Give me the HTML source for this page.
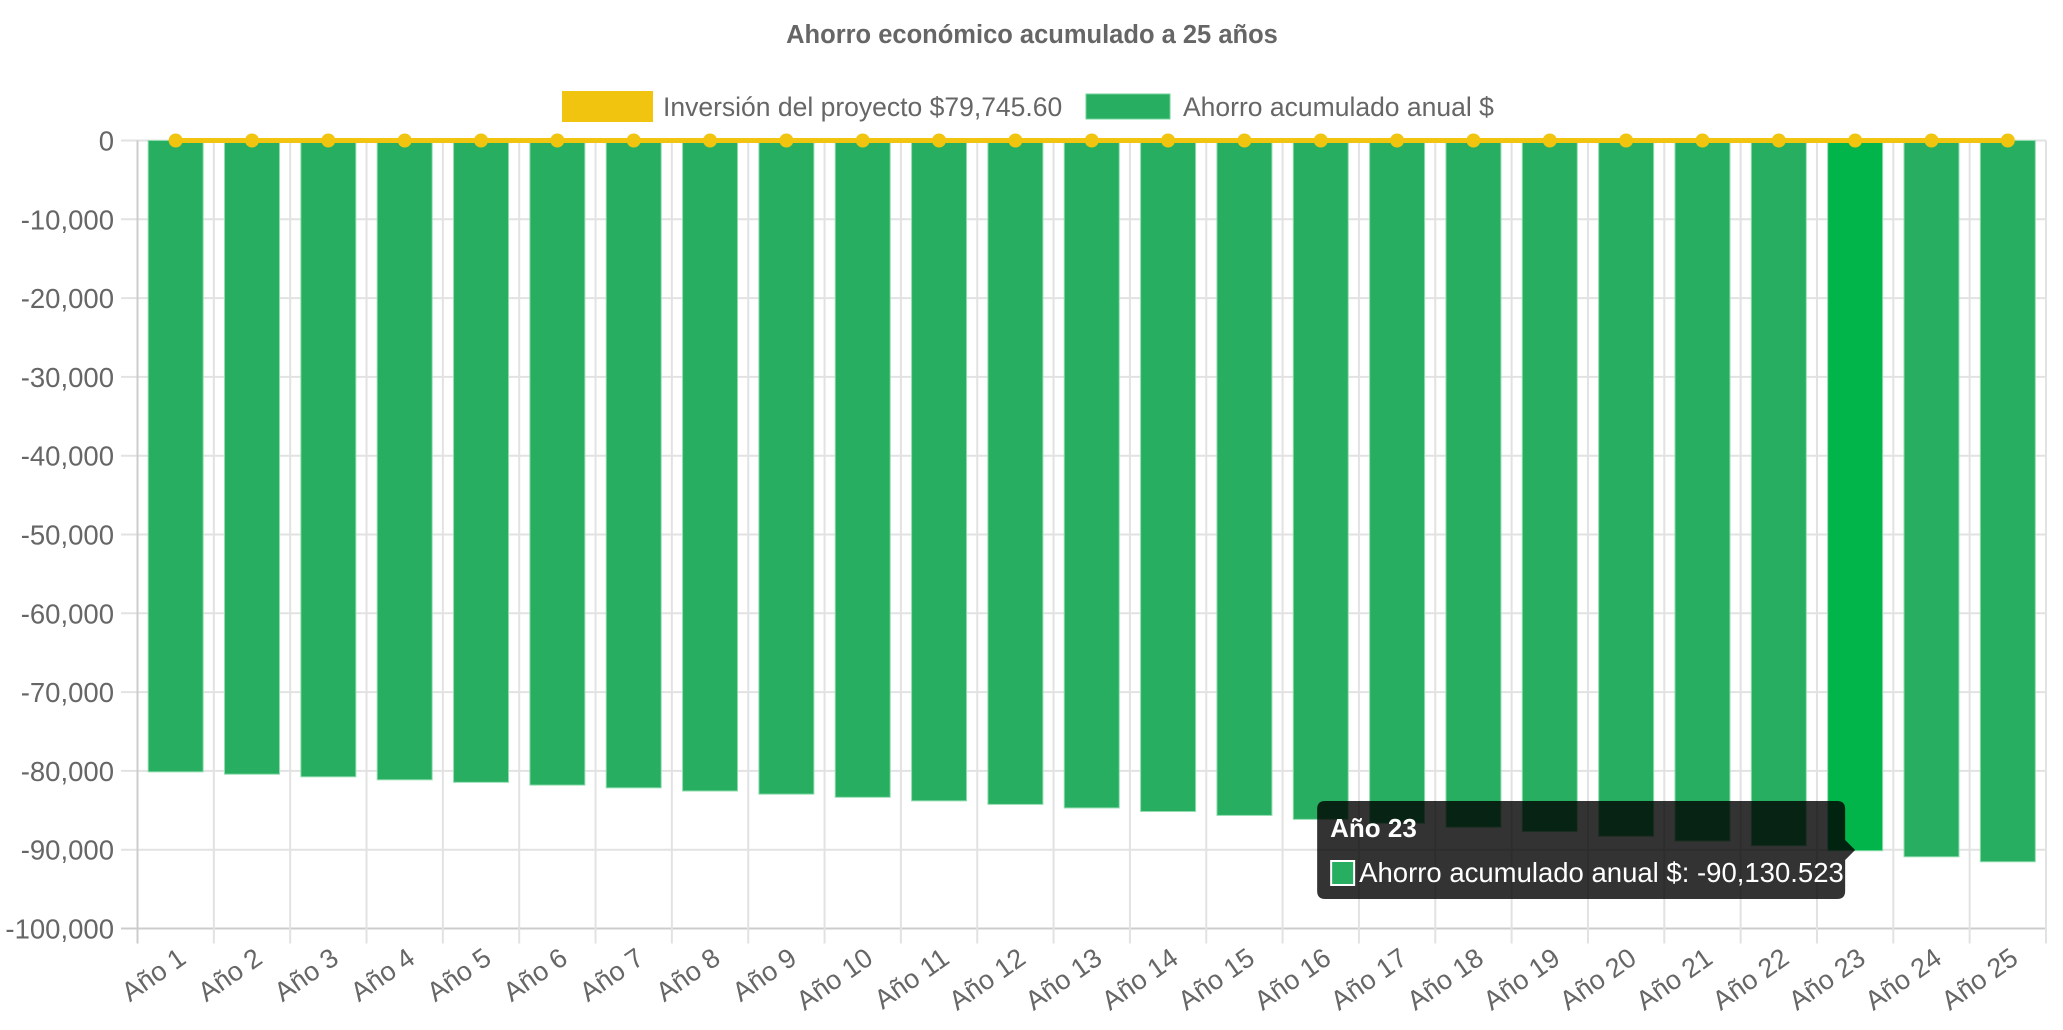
<!DOCTYPE html>
<html><head><meta charset="utf-8"><style>
html,body{margin:0;padding:0;background:#fff;}
svg{display:block;font-family:"Liberation Sans",sans-serif;}
</style></head><body>
<svg id="c" width="2063" height="1030">
<text x="1032" y="43" text-anchor="middle" font-size="25.5" font-weight="bold" fill="#666">Ahorro económico acumulado a 25 años</text>
<g>
<rect x="562" y="91" width="91" height="31" fill="#f1c40f"/>
<text x="663" y="116" font-size="26.5" fill="#666">Inversión del proyecto $79,745.60</text>
<rect x="1086" y="94" width="84" height="25" fill="#27ae60" stroke="#6fd39a" stroke-width="1"/>
<text x="1183" y="116" font-size="26.5" fill="#666">Ahorro acumulado anual $</text>
</g>
<g id="grid"></g><g id="bars"></g><g id="line"></g><g id="axes"></g><g id="tip"></g>
</svg>
<script>
const categories = ["Año 1","Año 2","Año 3","Año 4","Año 5","Año 6","Año 7","Año 8","Año 9","Año 10","Año 11","Año 12","Año 13","Año 14","Año 15","Año 16","Año 17","Año 18","Año 19","Año 20","Año 21","Año 22","Año 23","Año 24","Año 25"];
const savingsValues = [-80120,-80420,-80750,-81130,-81450,-81800,-82150,-82550,-82950,-83350,-83800,-84250,-84700,-85150,-85650,-86150,-86650,-87150,-87700,-88300,-88900,-89500,-90130.523,-90900,-91530];
const investmentValues = [0,0,0,0,0,0,0,0,0,0,0,0,0,0,0,0,0,0,0,0,0,0,0,0,0];
const yTicks = [0,-10000,-20000,-30000,-40000,-50000,-60000,-70000,-80000,-90000,-100000];
const yTickLabels = ["0","-10,000","-20,000","-30,000","-40,000","-50,000","-60,000","-70,000","-80,000","-90,000","-100,000"];
const hoverIndex = 22;

const NS="http://www.w3.org/2000/svg";
const L=137.5,R=2046,T=140.5,B=928.5;
const cw=(R-L)/categories.length;
function xC(i){return L+cw*(i+0.5);}
function y(v){return T+(0-v)/100000*(B-T);}
function mk(p,t,a){const e=document.createElementNS(NS,t);for(const k in a)e.setAttribute(k,a[k]);p.appendChild(e);return e;}
const grid=document.getElementById('grid'),bars=document.getElementById('bars'),line=document.getElementById('line'),axes=document.getElementById('axes'),tip=document.getElementById('tip');
yTicks.forEach((v,i)=>{
  const g=mk(grid,'line',{x1:121,x2:R,y1:y(v),y2:y(v),stroke:i==yTicks.length-1?'#ccc':'#e2e2e2','stroke-width':2});
  
  
  const t=mk(axes,'text',{x:114,y:y(v)+10,'text-anchor':'end','font-size':27.5,fill:'#666'});
  t.textContent=yTickLabels[i];
  
  
});
for(let i=0;i<=categories.length;i++){
  const x=L+cw*i;
  const g=mk(grid,'line',{x1:x,x2:x,y1:T,y2:B+15,stroke:i==0?'#ccc':'#e2e2e2','stroke-width':2});
  
  
}
categories.forEach((c,i)=>{
  const bw=cw*0.72, v=savingsValues[i];
  const b=mk(bars,'rect',{x:xC(i)-bw/2,y:y(0),width:bw,height:y(v)-y(0),fill:i==hoverIndex?'#02b54a':'#27ae60',stroke:'#8fdcae','stroke-width':1});
  
  
  const tx=xC(i)+12, ty=962;
  const t=mk(axes,'text',{x:tx,y:ty,'text-anchor':'end','font-size':27,fill:'#666',transform:`rotate(-35 ${tx} ${ty})`});
  t.textContent=c;
  
  
});
const pts=investmentValues.map((v,i)=>xC(i)+','+y(v)).join(' ');
const pl=mk(line,'polyline',{points:pts,fill:'none',stroke:'#f1c40f','stroke-width':5});


investmentValues.forEach((v,i)=>{
  const d=mk(line,'circle',{cx:xC(i),cy:y(v),r:7,fill:'#f1c40f'});
  
  
});
const tipX=xC(hoverIndex);
const bx=tipX-538, by=801, bw2=528, bh=98;
const tg=mk(tip,'g',{});


mk(tg,'path',{d:`M${bx+8} ${by} H${bx+bw2-8} Q${bx+bw2} ${by} ${bx+bw2} ${by+8} V${by+39} L${tipX} ${by+49} L${bx+bw2} ${by+59} V${by+bh-8} Q${bx+bw2} ${by+bh} ${bx+bw2-8} ${by+bh} H${bx+8} Q${bx} ${by+bh} ${bx} ${by+bh-8} V${by+8} Q${bx} ${by} ${bx+8} ${by}Z`,fill:'rgba(0,0,0,0.8)'});
const tt=mk(tg,'text',{x:bx+13,y:by+36,'font-size':26,'font-weight':'bold',fill:'#fff'});
tt.textContent=categories[hoverIndex];


mk(tg,'rect',{x:bx+14,y:by+60,width:23,height:24,fill:'#27ae60',stroke:'#fff','stroke-width':2});
const tb=mk(tg,'text',{x:bx+42,y:by+81,'font-size':27.5,fill:'#fff'});
tb.textContent='Ahorro acumulado anual $: -'+Math.abs(savingsValues[hoverIndex]).toLocaleString('en-US',{maximumFractionDigits:3});


</script>
</body></html>
